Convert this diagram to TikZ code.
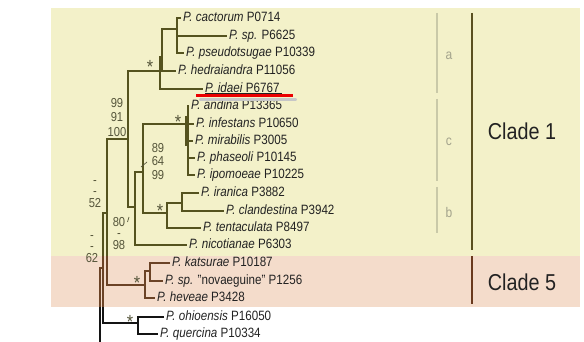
\documentclass[tikz,border=0pt]{standalone}
\usepackage{fontspec}
\setmainfont[FakeStretch=0.86]{Liberation Sans}
\usetikzlibrary{calc}
\definecolor{ybg}{HTML}{F3F1C9}
\definecolor{pbg}{HTML}{F4DCCB}
\definecolor{olv}{HTML}{55531F}
\definecolor{brn}{HTML}{6B4326}
\definecolor{blk}{HTML}{141414}
\definecolor{txt}{HTML}{222222}
\definecolor{bscol}{HTML}{55553A}
\definecolor{subc}{HTML}{C9C9A8}
\definecolor{subt}{HTML}{A3A38C}
\definecolor{c1bar}{HTML}{5A5020}
\definecolor{c5bar}{HTML}{6A3A1E}
\tikzset{
  leaf/.style={anchor=west, inner sep=0pt, inner xsep=2pt, text height=9pt, text depth=2.5pt,
    font=\fontsize{13.5}{14}\selectfont, text=txt},
  bstack/.style={anchor=south, inner sep=0pt, align=center, text=bscol},
  star/.style={anchor=base, inner sep=0pt, font=\fontsize{19}{19}\selectfont, text=bscol},
  ol/.style={draw=olv, line width=1.2pt},
  bn/.style={draw=brn, line width=1.2pt},
  bk/.style={draw=blk, line width=1.1pt},
  subbar/.style={draw=subc, line width=1.3pt},
  sublab/.style={anchor=base, inner sep=0pt, font=\fontsize{14}{14}\selectfont, text=subt},
  cladelab/.style={inner sep=0pt, font=\fontsize{23}{23}\selectfont, text=txt},
}
\begin{document}
\begin{tikzpicture}[x=1pt,y=-1pt]
\useasboundingbox (0,0) rectangle (584,342);
% backgrounds
\fill[ybg] (51,8) rectangle (580,256);
\fill[pbg] (51,256) rectangle (580,307);
\coordinate (yb) at (0,256);
\coordinate (wb) at (0,307);

% leaves
\node[leaf] (cac) at (181,18) {\textit{P. cactorum} P0714};
\node[leaf] (sp6) at (227,36) {\textit{P. sp.} P6625};
\node[leaf] (pse) at (184,53) {\textit{P. pseudotsugae} P10339};
\node[leaf] (hed) at (176,71) {\textit{P. hedraiandra} P11056};
\node[leaf] (ida) at (203,89) {\textit{P. idaei} P6767};
\node[leaf] (and) at (189,106) {\textit{P. andina} P13365};
\node[leaf] (inf) at (194,124) {\textit{P. infestans} P10650};
\node[leaf] (mir) at (193,141) {\textit{P. mirabilis} P3005};
\node[leaf] (pha) at (195,158) {\textit{P. phaseoli} P10145};
\node[leaf] (ipo) at (195,175) {\textit{P. ipomoeae} P10225};
\node[leaf] (ira) at (199,193) {\textit{P. iranica} P3882};
\node[leaf] (cla) at (224,211) {\textit{P. clandestina} P3942};
\node[leaf] (ten) at (201,228) {\textit{P. tentaculata} P8497};
\node[leaf] (nic) at (187,245) {\textit{P. nicotianae} P6303};
\node[leaf] (kat) at (170,263) {\textit{P. katsurae} P10187};
\node[leaf] (spn) at (163,281) {\textit{P. sp.} "novaeguine" P1256};
\node[leaf] (hev) at (155,298) {\textit{P. heveae} P3428};
\node[leaf] (ohi) at (164,317) {\textit{P. ohioensis} P16050};
\node[leaf] (que) at (158,334) {\textit{P. quercina} P10334};

% internal nodes
\coordinate (cs) at (177,29);
\coordinate (h) at (162,57);
\coordinate (a) at (160,71);
\coordinate (c) at (188,124);
\coordinate (ic) at (182,203);
\coordinate (t) at (167,213);
\coordinate (n3) at (143,172);
\coordinate (n2) at (135,207);
\coordinate (n1) at (128,139);
\coordinate (k) at (150,271);
\coordinate (c5) at (145,285);
\coordinate (big) at (107,213);
\coordinate (oq) at (138,323);
\coordinate (root) at (103,268);
\coordinate (stem) at (100,342);

% idaei highlight
\draw[black!22, line width=2.2pt, line cap=round] (200,99.5) -- (296,99.5);
\draw[red!92!black, line width=3pt] (196,96) -- (293,96);
\draw[txt, line width=0.6pt] ([xshift=2pt,yshift=-1.3pt]ida.base west) -- ([yshift=-1.3pt]ida.base east);

% clade 1 tree
\draw[ol] (cac.west) -| (cs) |- (pse.west);
\draw[ol] (cs |- sp6.west) -- (sp6.west);
\draw[ol] (cs) -| (h) |- (hed.west);
\draw[ol] (h) -| (a) |- (ida.west);
\draw[ol] (and.west) -| (c) |- (ipo.west);
\draw[ol] (c |- inf.west) -- (inf.west);
\draw[ol] (c |- mir.west) -- (mir.west);
\draw[ol] (c |- pha.west) -- (pha.west);
\draw[draw=olv, line width=2.4pt] (186,116) -- (186,146);
\draw[ol] (ira.west) -| (ic) |- (cla.west);
\draw[ol] (ic) -| (t) |- (ten.west);
\draw[ol] (c) -| (n3) |- (t);
\draw[ol] (n3) -| (n2) |- (nic.west);
\draw[ol] (a) -| (n1) |- (n2);
\draw[ol] (n1) -| (big) -- (big |- yb);
% clade 5 tree
\draw[bn] (big |- yb) |- (c5);
\draw[bn] (kat.west) -| (k) |- (spn.west);
\draw[bn] (k) -| (c5) |- (hev.west);
% outgroup and root
\draw[ol] (big) -- (big -| root) -- (root |- yb);
\draw[bn] (root |- yb) -- (root |- wb);
\draw[bk] (root |- wb) |- (oq);
\draw[bk] (ohi.west) -| (oq) |- (que.west);
\draw[bk] (stem) -- (stem |- wb);
\draw[bn] (stem |- wb) |- (root);

% stars
\node[star] (sa) at (150,74) {*};
\node[star] (sc) at (178,129) {*};
\node[star] (st) at (160,218) {*};
\node[star] (s5) at (137,289) {*};
\node[star] (so) at (130,328) {*};

% support values
\node[bstack, font=\fontsize{13}{14.5}\selectfont] (s99) at (117,136.65) {99\\91\\100};
\node[bstack, font=\fontsize{13}{13.5}\selectfont] (s89) at (158,179.65) {89\\64\\99};
\coordinate (t64) at (147,162);
\draw[bscol, line width=0.7pt] (t64) -- ++(-6,5);
\node[bstack, font=\fontsize{13}{11.5}\selectfont] (s80) at (119,249.65) {80\\-\\98};
\coordinate (t80) at (127.5,222);
\draw[bscol, line width=0.7pt] (t80) -- ++(1.5,-5);
\node[bstack, font=\fontsize{13}{11.5}\selectfont] (s52) at (95,207.65) {-\\-\\52};
\node[bstack, font=\fontsize{13}{11.5}\selectfont] (s62) at (92,262.65) {-\\-\\62};

% subclade bars
\draw[subbar] (437,13) -- (437,93);
\draw[subbar] (437,99) -- (437,181);
\draw[subbar] (437,187) -- (437,233);
\node[sublab] (la) at (449,60) {a};
\node[sublab] (lc) at (449,146) {c};
\node[sublab] (lb) at (449,218) {b};

% clade bars
\draw[c1bar, line width=2pt] (472,13) -- (472,250);
\draw[c5bar, line width=2pt] (472,256) -- (472,304);
\node[cladelab] (cl1) at (522,131) {Clade 1};
\node[cladelab] (cl5) at (522,282) {Clade 5};
\end{tikzpicture}
\end{document}
